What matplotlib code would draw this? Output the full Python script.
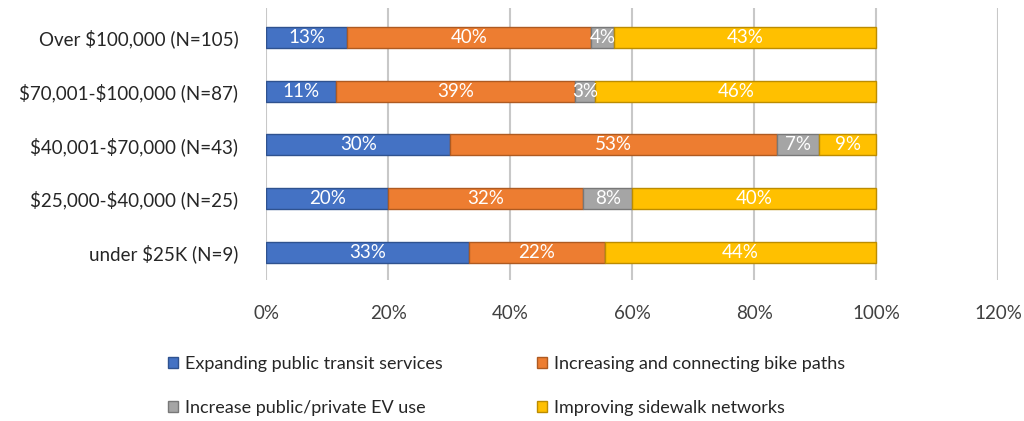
import matplotlib.pyplot as plt
import numpy as np

plt.rcParams['font.family'] = ['Lato', 'DejaVu Sans']

categories = ['under \\$25K (N=9)', '\\$25,000-\\$40,000 (N=25)', '\\$40,001-\\$70,000 (N=43)',
              '\\$70,001-\\$100,000 (N=87)', 'Over \\$100,000 (N=105)']
series_names = ['Expanding public transit services', 'Increasing and connecting bike paths',
                'Increase public/private EV use', 'Improving sidewalk networks']
transit = [33.3, 20.0, 30.2, 11.49, 13.3]
bike = [22.2, 32.0, 53.49, 39.1, 40.0]
ev = [0.0, 8.0, 7.0, 3.4, 3.8]
sidewalk = [44.4, 40.0, 9.3, 46.0, 42.9]

colors = ['#4472C4', '#ED7D31', '#A5A5A5', '#FFC000']
edges = ['#2F528F', '#AE5A21', '#787878', '#BC8C00']

fig = plt.figure(figsize=(10.24, 4.21), dpi=100)
ax = fig.add_axes([0.2598, 0.335, 0.715, 0.646])

y = np.arange(len(categories))
left = np.zeros(len(categories))
handles = []
for vals, name, c, ec in zip([transit, bike, ev, sidewalk], series_names, colors, edges):
    vals = np.array(vals)
    b = ax.barh(y, vals, left=left, height=0.39, color=c, edgecolor=ec, linewidth=1, label=name, zorder=3)
    handles.append(b)
    for yi, l, v in zip(y, left, vals):
        if v > 0:
            ax.text(l + v / 2, yi, f'{v:.0f}%', ha='center', va='center', color='white',
                    fontsize=13.5, zorder=4)
    left += vals

ax.set_xlim(0, 120)
ax.set_ylim(-0.52, 4.55)
ax.set_xticks(np.arange(0, 121, 20))
ax.set_xticklabels([f'{t}%' for t in range(0, 121, 20)], fontsize=13.5, color='#404040')
ax.set_yticks(y)
ax.set_yticklabels(categories, fontsize=13.5, color='#262626')
ax.tick_params(length=0)
ax.tick_params(axis='x', pad=18)
ax.tick_params(axis='y', pad=20)
ax.grid(axis='x', color='#C8C8C8', linewidth=1.5, zorder=0)
for s in ax.spines.values():
    s.set_visible(False)

order = [0, 2, 1, 3]
fig.legend([handles[i] for i in order], [series_names[i] for i in order],
           loc='center left', bbox_to_anchor=(0.148, 0.084), ncol=2, frameon=False, fontsize=13,
           handlelength=0.55, handleheight=0.55, handletextpad=0.4, columnspacing=5.2,
           labelspacing=1.55, labelcolor='#262626')

fig.savefig('out.png', dpi=100)
